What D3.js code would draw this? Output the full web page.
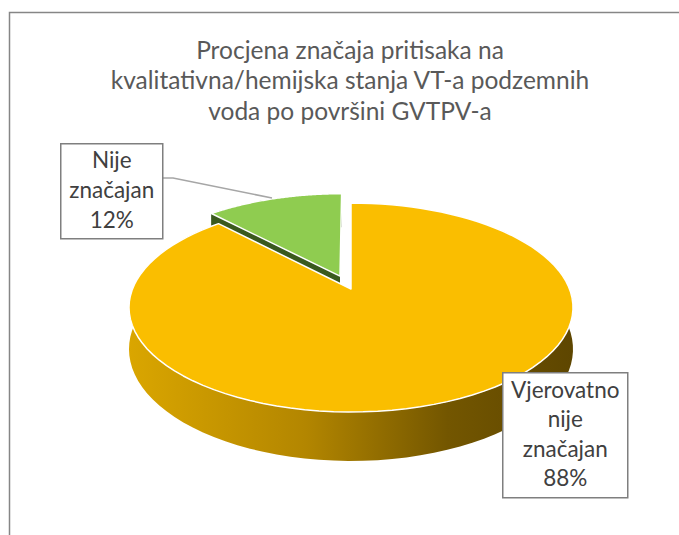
<!DOCTYPE html>
<html lang="bs">
<head>
<meta charset="UTF-8">
<title>Procjena značaja pritisaka</title>
<script src="https://d3js.org/d3.v7.min.js"></script>
<style>
    body { margin: 0; background: #fff; }
    svg { display: block; font-family: Lato, 'Open Sans', sans-serif; }
</style>
</head>
<body>
<svg id="chart" width="679" height="535"></svg>
<script>
// data
const categories = ["Vjerovatno nije značajan", "Nije značajan"];
const values = [88, 12];
const titleLines = ["Procjena značaja pritisaka na",
                    "kvalitativna/hemijska stanja VT-a podzemnih",
                    "voda po površini GVTPV-a"];

const topColors = ["#FABE00", "#8FCC50"];
const sideColors = ["#C89800", "#3A5A1E"];

const svg = d3.select("#chart");

// frame (only top and left edges are inside the picture)
svg.append("rect")
    .attr("x", 9.5).attr("y", 12.5)
    .attr("width", 700).attr("height", 560)
    .attr("fill", "#fff").attr("stroke", "#868686").attr("stroke-width", 1.5);

// title
svg.append("g").selectAll("text")
    .data(titleLines)
    .join("text")
    .attr("x", 350)
    .attr("y", (d, i) => 58.5 + i * 30.7)
    .attr("text-anchor", "middle")
    .attr("font-size", 24.5)
    .attr("fill", "#595959")
    .text(d => d);

// 3d pie projection (simple perspective on a tilted disk)
const cx = 351, cy = 289;
const R = 218.5, A = 101.2, persp = 0.177, depth = 40.3;
const explode = [0, 0.14];

function proj(theta, r, ex, ez, low) {
    const X = r * Math.sin(theta) + ex;
    const Z = -r * Math.cos(theta) + ez;
    const w = 1 - persp * Z;
    return [cx + R * X / w, cy + A * Z / w + (low ? depth / w : 0)];
}

const arcs = d3.pie().sort(null).startAngle(0).endAngle(2 * Math.PI)(values);
arcs.forEach((a, i) => {
    const mid = (a.startAngle + a.endAngle) / 2;
    a.ex = explode[i] * Math.sin(mid);
    a.ez = -explode[i] * Math.cos(mid);
});

const defs = svg.append("defs");
const grad = defs.append("linearGradient")
    .attr("id", "sideGrad")
    .attr("gradientUnits", "userSpaceOnUse")
    .attr("x1", 128).attr("x2", 572).attr("y1", 0).attr("y2", 0);
[[0, "#DAA600"], [0.4, "#B38600"], [0.72, "#735600"], [1, "#5E4600"]].forEach(s =>
    grad.append("stop").attr("offset", s[0]).attr("stop-color", s[1]));

const line = d3.line();

function rim(a, low) {
    const pts = d3.range(0, 101).map(k => {
        const t = a.startAngle + (a.endAngle - a.startAngle) * k / 100;
        return proj(t, 1, a.ex, a.ez, low);
    });
    return pts;
}

const pieG = svg.append("g");

// draw back slice first (green), then the front one
[1, 0].forEach(i => {
    const a = arcs[i];
    const g = pieG.append("g");
    // radial side face on the start edge, visible for the exploded slice
    if (i === 1) {
        const t = a.startAngle;
        g.append("path")
            .attr("d", line([proj(0, 0, a.ex, a.ez, false), proj(t, 1, a.ex, a.ez, false),
                             proj(t, 1, a.ex, a.ez, true), proj(0, 0, a.ex, a.ez, true)]) + "Z")
            .attr("fill", sideColors[i]);
    }
    // outer wall
    const top = rim(a, false), bottom = rim(a, true).reverse();
    g.append("path")
        .attr("d", line(top.concat(bottom)) + "Z")
        .attr("fill", i === 0 ? "url(#sideGrad)" : sideColors[i]);
    // top face
    g.append("path")
        .attr("d", line([proj(0, 0, a.ex, a.ez, false)].concat(top)) + "Z")
        .attr("fill", topColors[i])
        .attr("stroke", "#fff").attr("stroke-width", 1.5)
        .attr("stroke-linejoin", "round");
});

// leader line for the small slice
svg.append("path")
    .attr("d", line([[162, 178], [173, 178], [272, 198]]))
    .attr("fill", "none").attr("stroke", "#A6A6A6").attr("stroke-width", 1.5);

// data labels
const labelBoxes = [
    {x: 502, y: 372, w: 125, h: 125},
    {x: 60, y: 143, w: 102, h: 95}
];

arcs.forEach((a, i) => {
    const b = labelBoxes[i];
    const lines = categories[i].split(" ").concat([values[i] + "%"]);
    const g = svg.append("g");
    g.append("rect")
        .attr("x", b.x + 0.75).attr("y", b.y + 0.75)
        .attr("width", b.w).attr("height", b.h)
        .attr("fill", "#fff").attr("stroke", "#7F7F7F").attr("stroke-width", 1.5);
    const lineH = 29.6;
    const first = b.y + b.h / 2 - (lines.length - 1) * lineH / 2 + 7.5;
    g.selectAll("text")
        .data(lines)
        .join("text")
        .attr("x", b.x + b.w / 2 + 0.75)
        .attr("y", (d, k) => first + k * lineH)
        .attr("text-anchor", "middle")
        .attr("font-size", 22.5)
        .attr("fill", "#404040")
        .text(d => d);
});
</script>
</body>
</html>
